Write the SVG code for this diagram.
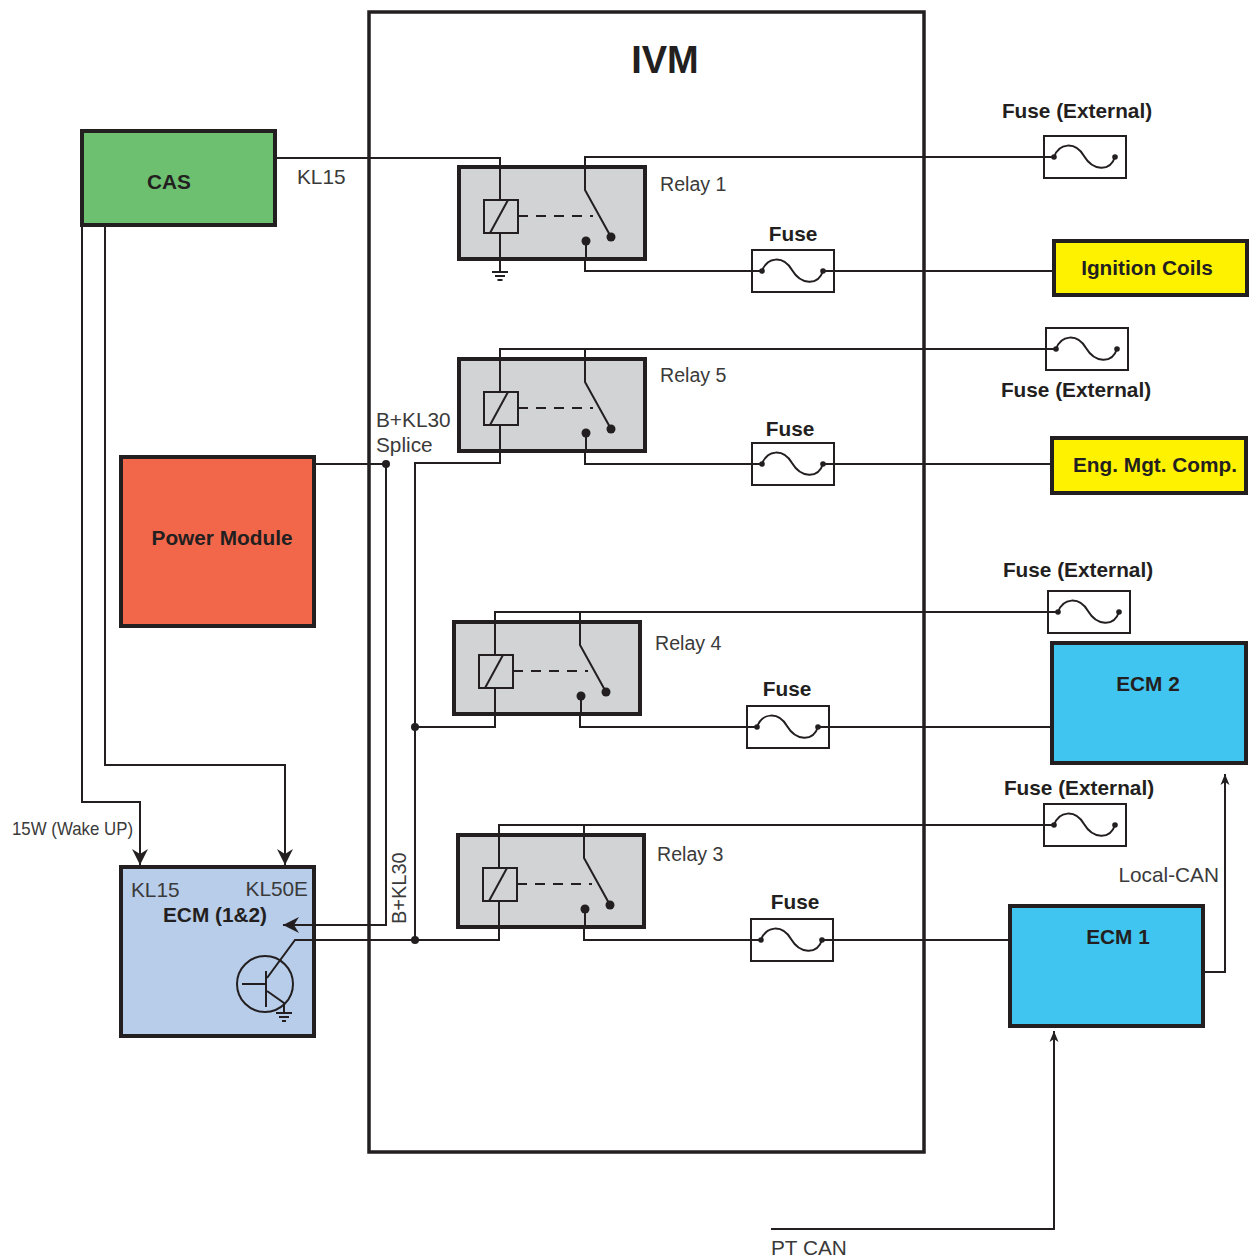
<svg xmlns="http://www.w3.org/2000/svg" xmlns:xlink="http://www.w3.org/1999/xlink" width="1249" height="1258" viewBox="0 0 1249 1258">
<style>
.w{fill:none;stroke:#231f20;stroke-width:2}
.node{stroke:#231f20;stroke-width:4}
.b{font-family:"Liberation Sans",Arial,sans-serif;font-weight:bold;fill:#231f20;font-size:20.8px}
.r{font-family:"Liberation Sans",Arial,sans-serif;fill:#3a3a3a;font-size:20.8px}
.rl{font-size:19.6px}
.c{text-anchor:middle}
.dot{fill:#231f20}
</style>
<defs>
<marker id="ah" markerUnits="userSpaceOnUse" markerWidth="18" markerHeight="18" viewBox="-16 -9 18 18" refX="0" refY="0" orient="auto">
<path d="M0,0 L-16,-8 L-11,0 L-16,8 Z" fill="#231f20"/>
</marker>
<marker id="as" markerUnits="userSpaceOnUse" markerWidth="12" markerHeight="12" viewBox="-11 -6 12 12" refX="0" refY="0" orient="auto">
<path d="M0,0 L-11,-4.5 L-8,0 L-11,4.5 Z" fill="#231f20"/>
</marker>
<g id="relay">
<rect x="0" y="0" width="186" height="92" fill="#d1d3d4" stroke="#231f20" stroke-width="4"/>
<path class="w" d="M41,0 V33 M41,66 V92"/>
<rect x="25" y="33" width="34" height="33" fill="none" stroke="#231f20" stroke-width="2"/>
<path class="w" d="M31,66 L49,33"/>
<path class="w" d="M59,49 H134" stroke-dasharray="10,8"/>
<path class="w" d="M126,0 V23 L152,70 M127,74 V92"/>
<circle class="dot" cx="152" cy="70" r="4.5"/>
<circle class="dot" cx="127" cy="74" r="4.5"/>
</g>
<g id="fuse">
<rect x="0" y="0" width="82" height="42" fill="#fff" stroke="#231f20" stroke-width="2"/>
<path class="w" d="M10,21 C15,7 31,5 40,20 C49,35 66,36 71,21"/>
<circle class="dot" cx="10" cy="21" r="2.8"/>
<circle class="dot" cx="71" cy="21" r="2.8"/>
</g>
</defs>
<rect width="1249" height="1258" fill="#fff"/>

<g id="ivm">
<rect x="369" y="12" width="555" height="1140" fill="none" stroke="#231f20" stroke-width="3.5"/>
<text class="b c" x="665" y="73" style="font-size:38px">IVM</text>
</g>

<g id="relay1"><use xlink:href="#relay" x="459" y="167"/><text class="r rl" x="660" y="191">Relay 1</text></g>
<g id="relay5"><use xlink:href="#relay" x="459" y="359"/><text class="r rl" x="660" y="382">Relay 5</text></g>
<g id="relay4"><use xlink:href="#relay" x="454" y="622"/><text class="r rl" x="655" y="650">Relay 4</text></g>
<g id="relay3"><use xlink:href="#relay" x="458" y="835"/><text class="r rl" x="657" y="861">Relay 3</text></g>

<g id="fuse1"><use xlink:href="#fuse" x="752" y="250"/><text class="b c" x="793" y="241">Fuse</text></g>
<g id="fuse5"><use xlink:href="#fuse" x="752" y="443"/><text class="b c" x="790" y="436">Fuse</text></g>
<g id="fuse4"><use xlink:href="#fuse" x="747" y="706"/><text class="b c" x="787" y="696">Fuse</text></g>
<g id="fuse3"><use xlink:href="#fuse" x="751" y="919"/><text class="b c" x="795" y="909">Fuse</text></g>

<g id="extfuse1"><use xlink:href="#fuse" x="1044" y="136"/><text class="b c" x="1077" y="118">Fuse (External)</text></g>
<g id="extfuse5"><use xlink:href="#fuse" x="1046" y="328"/><text class="b c" x="1076" y="397">Fuse (External)</text></g>
<g id="extfuse4"><use xlink:href="#fuse" x="1048" y="591"/><text class="b c" x="1078" y="577">Fuse (External)</text></g>
<g id="extfuse3"><use xlink:href="#fuse" x="1044" y="804"/><text class="b c" x="1079" y="795">Fuse (External)</text></g>

<g id="cas">
<rect class="node" x="82" y="131" width="193" height="94" fill="#6cc070"/>
<text class="b c" x="169" y="189">CAS</text>
<text class="r" x="297" y="184">KL15</text>
</g>

<g id="power-module">
<rect class="node" x="121" y="457" width="193" height="169" fill="#f2674a"/>
<text class="b c" x="222" y="545">Power Module</text>
<text class="r" x="376" y="427">B+KL30</text>
<text class="r" x="376" y="452">Splice</text>
</g>

<g id="ecm12">
<rect class="node" x="121" y="867" width="193" height="169" fill="#b8cdea"/>
<text class="r" x="131" y="897">KL15</text>
<text class="r" x="308" y="896" text-anchor="end">KL50E</text>
<text class="b c" x="215" y="922">ECM (1&amp;2)</text>
<circle cx="265" cy="984" r="28" fill="none" stroke="#231f20" stroke-width="2"/>
<path class="w" d="M242,984 H266"/>
<path class="w" d="M266,971 V1007" stroke-width="2.5"/>
<path class="w" d="M267,991 L284,1003 V1013"/>
<path class="w" d="M276,1013 H292 M279,1017 H289 M282,1021 H286" stroke-width="1.8"/>
<text class="r" transform="translate(406,924) rotate(-90)" style="font-size:20px">B+KL30</text>
<text class="r" x="12" y="835" style="font-size:19px" textLength="121" lengthAdjust="spacingAndGlyphs">15W (Wake UP)</text>
</g>

<g id="ignition-coils">
<rect class="node" x="1054" y="241" width="193" height="54" fill="#fff200"/>
<text class="b c" x="1147" y="275">Ignition Coils</text>
</g>

<g id="eng-mgt-comp">
<rect class="node" x="1052" y="438" width="194" height="55" fill="#fff200"/>
<text class="b c" x="1155" y="472">Eng. Mgt. Comp.</text>
</g>

<g id="ecm2">
<rect class="node" x="1052" y="643" width="194" height="120" fill="#40c4f0"/>
<text class="b c" x="1148" y="691">ECM 2</text>
</g>

<g id="ecm1">
<rect class="node" x="1010" y="906" width="193" height="120" fill="#40c4f0"/>
<text class="b c" x="1118" y="944">ECM 1</text>
<text class="r" x="1219" y="882" text-anchor="end">Local-CAN</text>
</g>

<g id="pt-can">
<text class="r" x="771" y="1255">PT CAN</text>
</g>

<g id="connectors">
<path class="w" d="M275,158 H500 V167"/>
<path class="w" d="M500,259 V272"/>
<path class="w" d="M492,272 H508 M495,276 H505 M497.5,280 H502.5" stroke-width="1.8"/>
<path class="w" d="M585,167 V157 H1054"/>
<path class="w" d="M585,259 V271 H762"/>
<path class="w" d="M823,271 H1056"/>

<path class="w" d="M500,359 V349 H1056 M585,359 V349"/>
<path class="w" d="M500,451 V463 H415 V940"/>
<path class="w" d="M585,451 V464 H762"/>
<path class="w" d="M823,464 H1054"/>

<path class="w" d="M316,464 H386 V925 H283" marker-end="url(#ah)"/>
<circle class="dot" cx="386" cy="464" r="4"/>

<path class="w" d="M495,622 V612 H1058 M580,622 V612"/>
<path class="w" d="M495,714 V727 H415"/>
<circle class="dot" cx="415" cy="727" r="4"/>
<path class="w" d="M580,714 V727 H757"/>
<path class="w" d="M818,727 H1054"/>

<path class="w" d="M499,835 V825 H1054 M584,835 V825"/>
<path class="w" d="M499,927 V940 H295 L267,978"/>
<circle class="dot" cx="415" cy="940" r="4"/>
<path class="w" d="M584,927 V940 H761"/>
<path class="w" d="M822,940 H1012"/>

<path class="w" d="M82,227 V802 H140 V865" marker-end="url(#ah)"/>
<path class="w" d="M105,227 V765 H285 V865" marker-end="url(#ah)"/>

<path class="w" d="M1201,972 H1225 V774" marker-end="url(#as)"/>
<path class="w" d="M771,1229 H1054 V1031" marker-end="url(#as)"/>
</g>
</svg>
